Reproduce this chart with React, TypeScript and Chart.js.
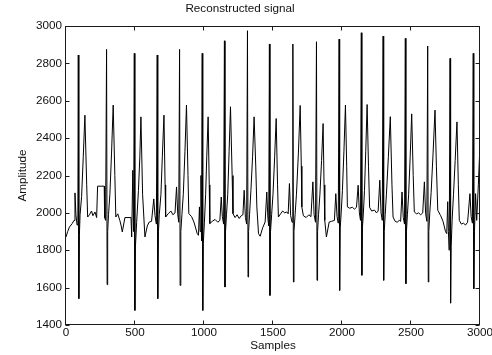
import React, { useEffect, useRef } from "react";
import { Chart, registerables } from "chart.js";

Chart.register(...registerables);

// Breakpoints (sample index, amplitude)
const sampleIdx: number[] = [
  0, 12, 25, 45, 58, 65, 72, 80, 86,
  89, 93, 97, 102, 113, 125, 137, 150, 157, 170, 185, 195, 210, 222, 229, 277, 280, 287,
  294, 298, 302, 308, 318, 330, 342, 354, 361, 375, 390, 400, 408, 427, 471, 476, 484, 490,
  495, 499, 503, 512, 525, 535, 543, 555, 572, 589, 603, 620, 636, 645, 655,
  661, 665, 670, 676, 688, 698, 710, 718, 722, 740, 760, 775, 790, 801, 810, 817,
  823, 827, 832, 840, 850, 862, 873, 884, 890, 910, 927, 951, 960, 967, 972, 978, 982,
  987, 991, 995, 1003, 1012, 1020, 1030, 1038, 1042, 1060, 1080, 1100, 1115, 1125, 1133, 1142,
  1148, 1152, 1156, 1163, 1172, 1182, 1192, 1204, 1210, 1225, 1240, 1255, 1270, 1282, 1291, 1300, 1309,
  1315, 1319, 1323, 1330, 1340, 1352, 1363, 1375, 1383, 1395, 1407, 1425, 1443, 1455, 1463, 1469,
  1474, 1478, 1482, 1490, 1500, 1512, 1523, 1533, 1539, 1555, 1570, 1585, 1600, 1610, 1619, 1628, 1638,
  1644, 1648, 1652, 1660, 1670, 1684, 1697, 1705, 1709, 1720, 1740, 1760, 1775, 1789, 1798, 1808,
  1815, 1819, 1823, 1830, 1840, 1852, 1863, 1870, 1875, 1887, 1907, 1925, 1945, 1955, 1964, 1973,
  1979, 1983, 1987, 1994, 2003, 2014, 2025, 2034, 2039, 2055, 2075, 2090, 2105, 2117, 2126, 2134,
  2140, 2144, 2148, 2155, 2163, 2172, 2182, 2192, 2200, 2215, 2235, 2250, 2262, 2274, 2283, 2292,
  2298, 2302, 2306, 2313, 2322, 2336, 2350, 2362, 2370, 2385, 2400, 2415, 2425, 2435, 2444, 2453,
  2459, 2463, 2467, 2474, 2483, 2494, 2505, 2516, 2524, 2540, 2555, 2570, 2585, 2597, 2606, 2615,
  2621, 2625, 2629, 2636, 2646, 2660, 2674, 2684, 2694, 2715, 2732, 2750, 2759, 2766, 2771, 2777,
  2783, 2787, 2791, 2798, 2808, 2820, 2833, 2843, 2850, 2865, 2880, 2895, 2910, 2927, 2936, 2945,
  2951, 2955, 2960, 2968, 2976, 2988, 3000,
];

const amplitude: number[] = [
  1871, 1900, 1924, 1943, 1960, 2107, 1990, 1935, 1960,
  2845, 1541, 1880, 1990, 2087, 2300, 2523, 2150, 1978, 1990, 2010, 1985, 2005, 1975, 2143, 2143, 1975, 1960,
  2875, 1616, 1900, 1990, 2100, 2320, 2577, 2200, 1978, 1995, 1960, 1930, 1898, 1975, 1975, 1871, 2228, 1900,
  2854, 1478, 1817, 1950, 2120, 2300, 2514, 2100, 1871, 1930, 1951, 1955, 2075, 1985, 1940,
  2845, 1541, 1900, 1990, 2100, 2300, 2523, 2150, 1978, 1995, 2010, 1990, 2000, 2139, 1990, 1950,
  2875, 1612, 1900, 1990, 2100, 2330, 2577, 2200, 1996, 1980, 1951, 1889, 1880, 2032, 1900, 2200, 1850,
  2854, 1478, 1837, 1950, 2100, 2300, 2514, 2150, 1943, 1955, 1965, 1950, 1960, 2085, 1980, 1940,
  2921, 1603, 1900, 1990, 2100, 2330, 2568, 2200, 1996, 1975, 1990, 1970, 1985, 1990, 2121, 1975, 1940,
  2975, 1657, 1900, 1990, 2120, 2300, 2514, 2250, 2032, 1889, 1875, 1920, 1951, 2112, 1970, 1930,
  2904, 1558, 1900, 1990, 2100, 2300, 2505, 2150, 1978, 1995, 2010, 2000, 2005, 1995, 2157, 1985, 1950,
  2904, 1630, 1900, 1990, 2100, 2320, 2575, 2250, 2032, 1985, 1975, 1990, 1980, 2166, 1990, 1950,
  2916, 1639, 1900, 1990, 2100, 2280, 2478, 2150, 1960, 1871, 1951, 1955, 1960, 2103, 1980, 1945,
  2930, 1585, 1920, 2000, 2120, 2330, 2577, 2250, 2032, 2025, 2030, 2020, 2030, 2148, 2000, 1960,
  2964, 1666, 1920, 2000, 2120, 2330, 2580, 2250, 2030, 2010, 2015, 2000, 2010, 2175, 2000, 1960,
  2946, 1639, 1900, 1990, 2100, 2300, 2515, 2150, 1978, 1955, 1950, 1960, 1955, 2112, 1975, 1940,
  2934, 1621, 1900, 1990, 2100, 2300, 2530, 2200, 2005, 1995, 2000, 1990, 2000, 2166, 1995, 1955,
  2893, 1630, 1900, 2000, 2110, 2320, 2550, 2250, 2014, 1985, 1955, 1900, 1889, 2060, 1900, 1800,
  2827, 1517, 1820, 1960, 2100, 2280, 2487, 2150, 1960, 1940, 1945, 1935, 1950, 2103, 1980, 1945,
  2854, 1594, 1900, 2103, 1960, 2150, 2371,
];

const xTicks: number[] = [0, 500, 1000, 1500, 2000, 2500, 3000];
const yTicks: number[] = [1400, 1600, 1800, 2000, 2200, 2400, 2600, 2800, 3000];

const FONT = "'Liberation Sans', Arial, Helvetica, sans-serif";
const TEXT = "#111";

const framePlugin = {
  id: "matlabFrame",
  afterDraw(chart: any) {
    const { ctx, chartArea, scales } = chart;
    const { left, right, top, bottom } = chartArea;
    const L = Math.round(left) - 0.5;
    const R = Math.round(right) - 0.5;
    const T = Math.round(top) + 0.5;
    const B = Math.round(bottom) - 0.5;
    ctx.save();
    ctx.strokeStyle = "#1a1a1a";
    ctx.lineWidth = 1;
    ctx.strokeRect(L, T, R - L, B - T);
    const len = 4;
    ctx.beginPath();
    xTicks.forEach((v) => {
      const px = Math.round(scales.x.getPixelForValue(v)) - 0.5;
      ctx.moveTo(px, B);
      ctx.lineTo(px, B - len);
      ctx.moveTo(px, T);
      ctx.lineTo(px, T + len);
    });
    yTicks.forEach((v) => {
      const py = Math.round(scales.y.getPixelForValue(v)) + 0.5;
      ctx.moveTo(L, py);
      ctx.lineTo(L + len, py);
      ctx.moveTo(R, py);
      ctx.lineTo(R - len, py);
    });
    ctx.stroke();
    ctx.restore();
  },
};

export default function App() {
  const ref = useRef<HTMLCanvasElement | null>(null);

  useEffect(() => {
    if (!ref.current) return;
    const points = sampleIdx.map((s, i) => ({ x: s, y: amplitude[i] }));
    const font = { family: FONT, size: 11.7, weight: "normal" as const };
    const plain = (v: any) => String(v);
    const chart = new Chart(ref.current, {
      type: "line",
      data: {
        datasets: [
          {
            data: points,
            borderColor: "#000",
            borderWidth: 1,
            pointRadius: 0,
            tension: 0,
            fill: false,
          },
        ],
      },
      options: {
        animation: false,
        responsive: false,
        devicePixelRatio: 1,
        layout: { padding: { left: 0, right: 12, top: 0, bottom: 0 } },
        plugins: {
          legend: { display: false },
          tooltip: { enabled: false },
          title: {
            display: true,
            text: "Reconstructed signal",
            color: TEXT,
            font,
            padding: { top: 2, bottom: 10 },
          },
        },
        scales: {
          x: {
            type: "linear",
            min: 0,
            max: 3000,
            afterBuildTicks: (s: any) => {
              s.ticks = xTicks.map((v) => ({ value: v }));
            },
            ticks: { color: TEXT, font, padding: 1, maxRotation: 0, autoSkip: false, callback: plain },
            grid: { display: false, drawTicks: false },
            border: { display: false },
            title: { display: true, text: "Samples", color: TEXT, font, padding: { top: 0, bottom: 2 } },
            afterFit: (s: any) => {
              s.height = 30;
              s.paddingLeft = 0;
              s.paddingRight = 0;
            },
          },
          y: {
            type: "linear",
            min: 1400,
            max: 3000,
            afterBuildTicks: (s: any) => {
              s.ticks = yTicks.map((v) => ({ value: v }));
            },
            ticks: { color: TEXT, font, padding: 4, autoSkip: false, callback: plain },
            grid: { display: false, drawTicks: false },
            border: { display: false },
            title: { display: true, text: "Amplitude", color: TEXT, font, padding: { top: 16, bottom: 0 } },
            afterFit: (s: any) => {
              s.width = 66;
              s.paddingTop = 0;
              s.paddingBottom = 0;
            },
          },
        },
      },
      plugins: [framePlugin],
    });
    return () => chart.destroy();
  }, []);

  return (
    <div style={{ position: "fixed", left: 0, top: 0, width: 492, height: 355, background: "#fff" }}>
      <canvas ref={ref} width={492} height={355} style={{ display: "block", width: 492, height: 355 }} />
    </div>
  );
}
